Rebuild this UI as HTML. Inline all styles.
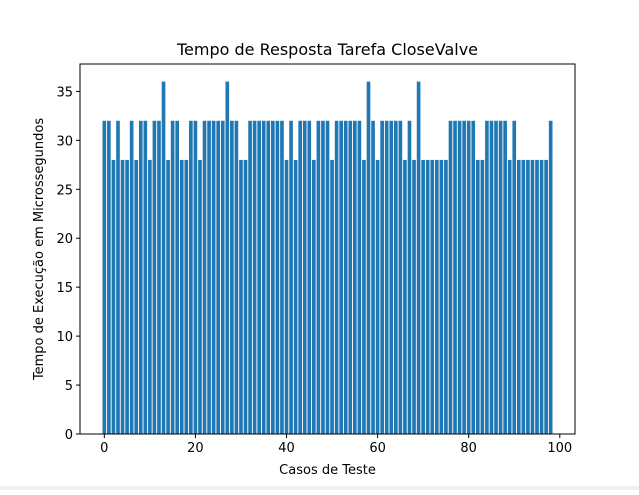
<!DOCTYPE html>
<html><head><meta charset="utf-8"><style>
body{margin:0;background:#fff;}
svg text{font-family:"DejaVu Sans","Liberation Sans",sans-serif;fill:#000;}
</style></head><body>
<svg id="chart" width="639" height="490" xmlns="http://www.w3.org/2000/svg">
<rect width="639" height="490" fill="#fff"/>
<rect x="0" y="486" width="639" height="4" fill="#f0f0f0"/>
<text x="327.5" y="55" text-anchor="middle" font-size="16">Tempo de Resposta Tarefa CloseValve</text>
<text x="327.5" y="474" text-anchor="middle" font-size="13">Casos de Teste</text>
<text transform="translate(43,249) rotate(-90)" text-anchor="middle" font-size="13">Tempo de Execução em Microssegundos</text>
<g id="bars"></g><g id="xt"></g><g id="yt"></g>
<rect x="80" y="64" width="495" height="370" fill="none" stroke="#000" stroke-width="1"/>
</svg>
<script>
const values = [32,32,28,32,28,28,32,28,32,32,
28,32,32,36,28,32,32,28,28,32,
32,28,32,32,32,32,32,36,32,32,
28,28,32,32,32,32,32,32,32,32,
28,32,28,32,32,32,28,32,32,32,
28,32,32,32,32,32,32,28,36,32,
28,32,32,32,32,32,28,32,28,36,
28,28,28,28,28,28,32,32,32,32,
32,32,28,28,32,32,32,32,32,28,
32,28,28,28,28,28,28,28,32];
const xTicks = [0,20,40,60,80,100];
const yTicks = [0,5,10,15,20,25,30,35];
const NS="http://www.w3.org/2000/svg";
const L=80,R=575,T=64,B=434;
const xmin=-0.4-0.05*(values.length-0.2), xmax=values.length-0.6+0.05*(values.length-0.2);
const ymax=Math.max(...values)*1.05;
const xs=v=>L+(v-xmin)/(xmax-xmin)*(R-L);
const ys=v=>B-v/ymax*(B-T);
const bars=document.getElementById('bars');
values.forEach((v,i)=>{
 const r=document.createElementNS(NS,'rect');
 r.setAttribute('x',xs(i-0.4));r.setAttribute('width',xs(i+0.4)-xs(i-0.4));
 r.setAttribute('y',ys(v));r.setAttribute('height',B-ys(v));r.setAttribute('fill','#1f77b4');
 
 
 bars.appendChild(r);
});
const xt=document.getElementById('xt');
xTicks.forEach(t=>{
 const x=xs(t);
 const l=document.createElementNS(NS,'line');
 l.setAttribute('x1',x);l.setAttribute('x2',x);l.setAttribute('y1',B);l.setAttribute('y2',B+4);l.setAttribute('stroke','#000');
 
 
 xt.appendChild(l);
 const tx=document.createElementNS(NS,'text');
 tx.setAttribute('x',x);tx.setAttribute('y',B+18);tx.setAttribute('text-anchor','middle');tx.setAttribute('font-size','13');
 tx.textContent=t;
 
 
 xt.appendChild(tx);
});
const yt=document.getElementById('yt');
yTicks.forEach(t=>{
 const y=ys(t);
 const l=document.createElementNS(NS,'line');
 l.setAttribute('x1',L-4);l.setAttribute('x2',L);l.setAttribute('y1',y);l.setAttribute('y2',y);l.setAttribute('stroke','#000');
 
 
 yt.appendChild(l);
 const tx=document.createElementNS(NS,'text');
 tx.setAttribute('x',L-7);tx.setAttribute('y',y+5);tx.setAttribute('text-anchor','end');tx.setAttribute('font-size','13');
 tx.textContent=t;
 
 
 yt.appendChild(tx);
});
</script>
</body></html>
